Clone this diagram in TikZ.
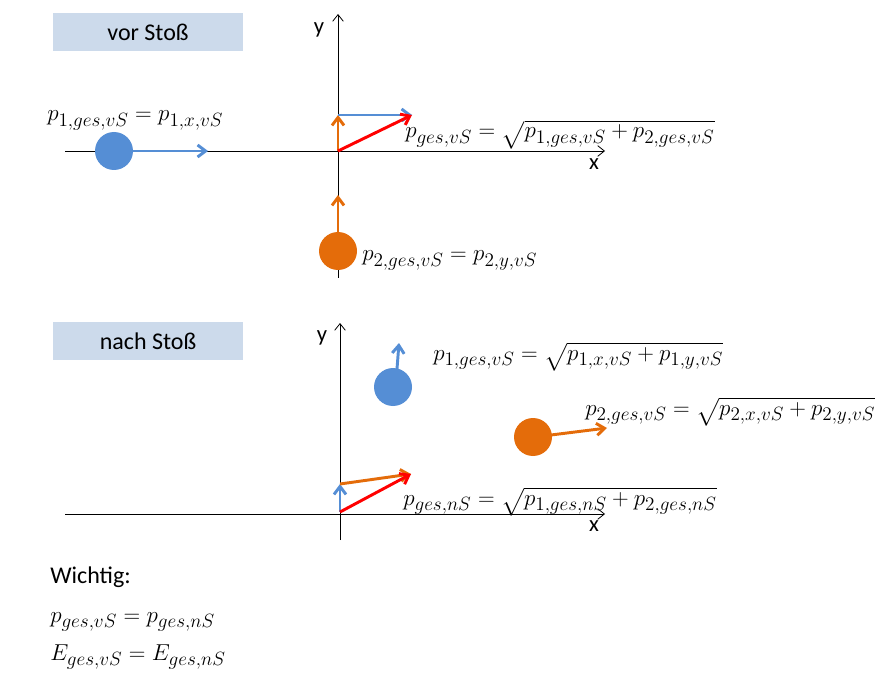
\documentclass[tikz,border=0pt]{standalone}
\usepackage{amsmath}
\usepackage{fontspec}
\setsansfont{Carlito}
\usetikzlibrary{arrows.meta}
\DeclareMathSizes{18}{18}{14}{11}
\definecolor{myblue}{HTML}{558ED5}
\definecolor{myorange}{HTML}{E46C0A}
\definecolor{myred}{HTML}{FF0000}
\definecolor{boxfill}{HTML}{CCDAEB}
\newcommand\mthsize{\fontsize{18}{20}\selectfont}
\begin{document}
\begin{tikzpicture}[x=0.75pt,y=-0.75pt,
  titlebox/.style={fill=boxfill, minimum width=142.5pt, minimum height=28.5pt, inner sep=0pt, font=\sffamily\fontsize{18}{20}\selectfont},
  axis/.style={draw=black, line width=0.6pt, -{Straight Barb[length=5pt,width=8pt]}},
  vec/.style={line width=2.2pt, -{Straight Barb[length=6pt,width=9pt]}},
  ball/.style={circle, minimum size=28.5pt, inner sep=0pt},
  lab/.style={anchor=base west, inner sep=0pt, font=\mthsize},
  axlab/.style={font=\sffamily\fontsize{17}{19}\selectfont, inner sep=0pt}]
\useasboundingbox (0,0) rectangle (886,681);
% ---------------- top: vor Stoss
\node[titlebox] (b1) at (148,32) {vor Stoß};
\coordinate (xa1) at (65,151);
\coordinate (xb1) at (605,151);
\coordinate (ya1) at (338,278);
\coordinate (yb1) at (338,14);
\draw[axis] (xa1) -- (xb1);
\draw[axis] (ya1) -- (yb1);
\node[axlab] (ylab1) at (319,30) {y};
\node[axlab] (xlab1) at (594,164) {x};
\node[ball, fill=myblue] (c1) at (114,151) {};
\coordinate (c1t) at (208,151);
\draw[vec, myblue] (c1.east) -- (c1t);
\node[ball, fill=myorange] (c2) at (338,251) {};
\coordinate (c2t) at (338,195);
\draw[vec, myorange] (c2.north) -- (c2t);
\coordinate (o1) at (338,151);
\coordinate (o1y) at (338,115);
\coordinate (o1r) at (412,115);
\draw[vec, myorange] (o1) -- (o1y);
\draw[vec, myblue] (o1y) -- (o1r);
\draw[vec, myred] (o1) -- (o1r);
\node[lab] (l1) at (47,121) {$p_{1,ges,vS}=p_{1,x,vS}$};
\node[lab] (l2) at (405,138) {$p_{ges,vS}=\sqrt{p_{1,ges,vS}+p_{2,ges,vS}}$};
\node[lab] (l3) at (362,261) {$p_{2,ges,vS}=p_{2,y,vS}$};
% ---------------- bottom: nach Stoss
\node[titlebox] (b2) at (148,341) {nach Stoß};
\coordinate (xa2) at (65,514);
\coordinate (xb2) at (605,514);
\coordinate (ya2) at (340,540);
\coordinate (yb2) at (340,323);
\draw[axis] (xa2) -- (xb2);
\draw[axis] (ya2) -- (yb2);
\node[axlab] (ylab2) at (322,338) {y};
\node[axlab] (xlab2) at (594,526) {x};
\node[ball, fill=myblue] (c3) at (393,387) {};
\coordinate (c3s) at (397,369);
\coordinate (c3t) at (399,343);
\draw[vec, myblue] (c3s) -- (c3t);
\node[ball, fill=myorange] (c4) at (533,437) {};
\coordinate (c4s) at (551,435);
\coordinate (c4t) at (607,428);
\draw[vec, myorange] (c4s) -- (c4t);
\coordinate (o2) at (340,512);
\coordinate (o2y) at (340,484);
\coordinate (o2r) at (411,474);
\draw[vec, myblue] (o2) -- (o2y);
\draw[vec, myorange] (o2y) -- (o2r);
\draw[vec, myred] (o2) -- (o2r);
\node[lab] (l4) at (433,360) {$p_{1,ges,vS}=\sqrt{p_{1,x,vS}+p_{1,y,vS}}$};
\node[lab] (l5) at (585,415) {$p_{2,ges,vS}=\sqrt{p_{2,x,vS}+p_{2,y,vS}}$};
\node[lab] (l6) at (403,505) {$p_{ges,nS}=\sqrt{p_{1,ges,nS}+p_{2,ges,nS}}$};
% ---------------- Wichtig
\node[anchor=base west, inner sep=0pt, font=\sffamily\fontsize{18}{20}\selectfont] (w) at (50,583) {Wichtig:};
\node[lab] (l7) at (50,622) {$p_{ges,vS}=p_{ges,nS}$};
\node[lab] (l8) at (50,660) {$E_{ges,vS}=E_{ges,nS}$};
\end{tikzpicture}
\end{document}
